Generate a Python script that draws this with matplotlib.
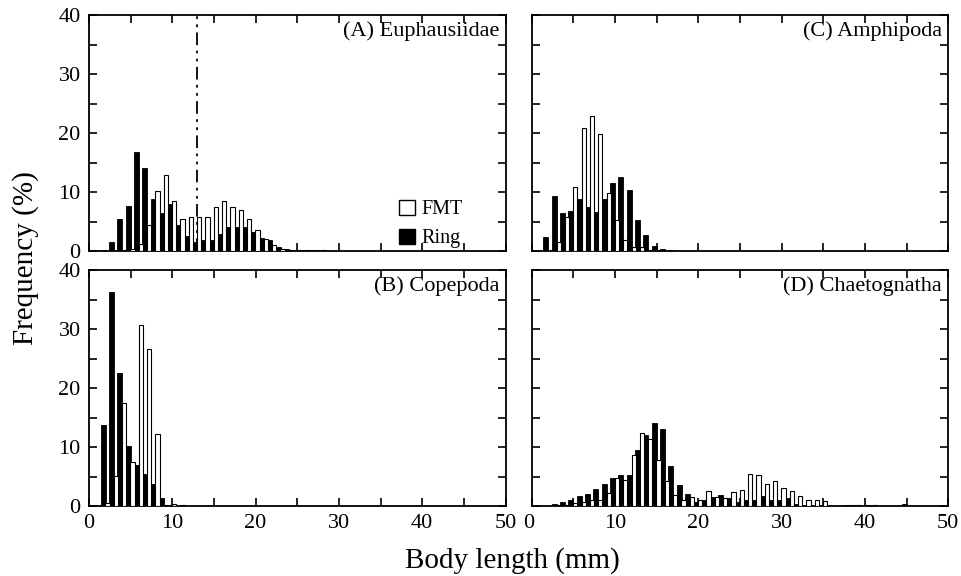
import numpy as np
import matplotlib
matplotlib.use("Agg")
import matplotlib.pyplot as plt
import matplotlib.transforms as mtransforms
from matplotlib.patches import Patch

plt.rcParams['font.family'] = ['Liberation Serif', 'DejaVu Serif']

# body length bins (mm) and frequencies (%) per taxon
euph_len = list(range(2, 29))
euph_ring = [0.2, 1.5, 5.5, 7.6, 16.7, 14.0, 8.9, 6.5, 8.0, 4.4, 2.5, 1.6, 1.9, 1.9,
             2.9, 4.0, 4.1, 4.0, 3.2, 2.2, 1.9, 0.6, 0.3, 0.2, 0.2, 0.2, 0.2]
euph_fmt = [0.0, 0.0, 0.1, 0.3, 1.2, 4.4, 10.2, 12.9, 8.4, 5.4, 5.7, 5.7, 5.7, 7.5,
            8.5, 7.4, 6.9, 5.4, 3.6, 2.0, 1.0, 0.3, 0.2, 0.2, 0.2, 0.2, 0.2]

cope_len = list(range(2, 12))
cope_ring = [13.7, 36.2, 22.5, 10.2, 6.9, 5.5, 3.7, 1.3, 0.2, 0.0]
cope_fmt = [0.5, 5.1, 17.4, 7.5, 30.6, 26.6, 12.2, 0.2, 0.3, 0.2]

amph_len = list(range(2, 18))
amph_ring = [2.4, 9.3, 6.4, 6.8, 8.9, 7.5, 6.6, 8.8, 11.6, 12.6, 10.3, 5.3, 2.8, 0.8, 0.3, 0.2]
amph_fmt = [0.0, 1.6, 5.7, 10.8, 20.9, 22.9, 19.8, 9.9, 5.3, 1.9, 0.6, 0.7, 0.2, 0.1, 0.0, 0.0]

chae_len = list(range(3, 46))
chae_ring = [0.3, 0.6, 1.0, 1.7, 2.0, 2.9, 3.7, 4.8, 5.3, 5.3, 9.5, 12.1, 14.0, 13.1,
             6.8, 3.6, 2.1, 0.6, 1.0, 1.5, 1.9, 1.4, 0.7, 1.0, 1.0, 1.7, 1.0, 1.0,
             1.3, 0.3, 0.0, 0.0, 0.0, 0.0, 0.0, 0.2, 0.2, 0.0, 0.2, 0.0, 0.0, 0.0, 0.3]
chae_fmt = [0.1, 0.2, 0.5, 0.6, 1.1, 1.0, 2.2, 4.7, 4.4, 8.6, 12.3, 11.3, 7.8, 4.2,
            1.9, 1.0, 1.5, 1.1, 2.5, 1.5, 1.4, 2.4, 2.7, 5.5, 5.3, 3.8, 4.3, 3.0,
            2.6, 1.7, 1.0, 1.0, 0.8, 0.0, 0.0, 0.2, 0.2, 0.2, 0.2, 0.0, 0.0, 0.0, 0.0]

panels = [
    ("(A) Euphausiidae", euph_len, euph_ring, euph_fmt),
    ("(C) Amphipoda", amph_len, amph_ring, amph_fmt),
    ("(B) Copepoda", cope_len, cope_ring, cope_fmt),
    ("(D) Chaetognatha", chae_len, chae_ring, chae_fmt),
]
split_len = 13  # dash-dot line in panel A

fig = plt.figure(figsize=(9.62, 5.76), dpi=100)
lefts = [0.0925, 0.5527]
bottoms = [0.5642, 0.1215]
w, h = 0.433, 0.4097

for i, (title, x, ring, fmt) in enumerate(panels):
    r, c = divmod(i, 2)
    ax = fig.add_axes([lefts[c], bottoms[r], w, h])
    x = np.array(x)
    ax.bar(x - 0.6, ring, width=0.6, align='edge', color='black',
           edgecolor='black', linewidth=0.6, zorder=2)
    ax.bar(x - 0.02, fmt, width=0.5, align='edge', color='white',
           edgecolor='black', linewidth=0.8, zorder=3)
    ax.set_xlim(0, 50)
    ax.set_ylim(0, 40)
    ax.set_xticks(range(0, 51, 10))
    ax.set_xticks(range(0, 51, 5), minor=True)
    ax.set_yticks(range(0, 41, 10))
    ax.set_yticks(range(0, 41, 5), minor=True)
    ax.tick_params(which='both', direction='in', top=True, right=True,
                   labelsize=16, width=1.2, length=6, pad=6)
    for s in ax.spines.values():
        s.set_linewidth(1.3)
    if r == 0:
        ax.tick_params(labelbottom=False)
    if c == 1:
        ax.tick_params(labelleft=False)
    ax.text(0.985, 0.975, title, transform=ax.transAxes, ha='right', va='top',
            fontsize=16)
    if i == 0:
        ax.axvline(split_len, ymin=0, ymax=1, color='black', lw=1.3,
                   linestyle=(0, (7, 3, 1.5, 3, 1.5, 3)), zorder=1)
        handles = [Patch(facecolor='white', edgecolor='black', label='FMT'),
                   Patch(facecolor='black', edgecolor='black', label='Ring')]
        ax.legend(handles=handles, loc='lower left', bbox_to_anchor=(0.7, -0.065),
                  frameon=False, fontsize=14.5, handlelength=0.8, handleheight=0.8,
                  handletextpad=0.35, labelspacing=0.45)
    if r == 1 and c == 1:
        # nudge the "0" of panel D left a little, as in the original
        fig.canvas.draw()
        lab0 = ax.get_xticklabels()[0]
        lab0.set_transform(lab0.get_transform() +
                           mtransforms.ScaledTranslation(-0.035, 0, fig.dpi_scale_trans))

fig.text(0.027, 0.552, "Frequency (%)", rotation=90, ha='center', va='center',
         fontsize=21)
fig.text(0.533, 0.026, "Body length (mm)", ha='center', va='center', fontsize=21)

fig.savefig("out.png", dpi=100)
